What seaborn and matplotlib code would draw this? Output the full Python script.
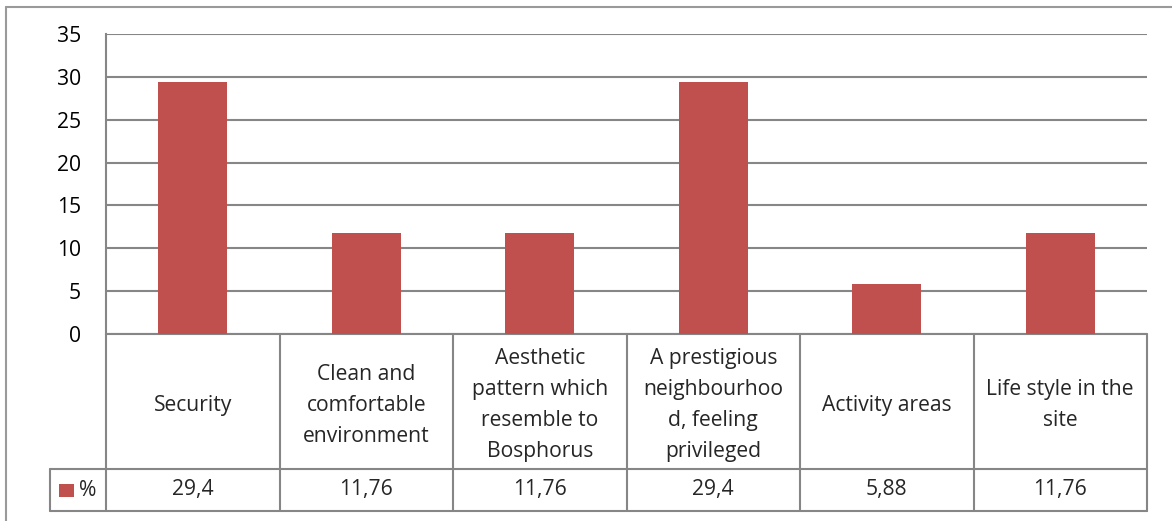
import matplotlib
matplotlib.use("Agg")
import matplotlib.pyplot as plt
import seaborn as sns
import pandas as pd
from matplotlib.patches import Rectangle

# Data
categories = [
    "Security",
    "Clean and\ncomfortable\nenvironment",
    "Aesthetic\npattern which\nresemble to\nBosphorus",
    "A prestigious\nneighbourhoo\nd, feeling\nprivileged",
    "Activity areas",
    "Life style in the\nsite",
]
values = [29.4, 11.76, 11.76, 29.4, 5.88, 11.76]
value_labels = ["29,4", "11,76", "11,76", "29,4", "5,88", "11,76"]
series_name = "%"
y_ticks = [0, 5, 10, 15, 20, 25, 30, 35]

df = pd.DataFrame({"category": categories, "value": values})

sns.set_theme(style="white")
plt.rcParams["font.family"] = ["Open Sans", "DejaVu Sans"]

bar_color = "#C0504D"
line_color = "#868686"
fs = 15.2
W, H = 1172, 521

fig = plt.figure(figsize=(W / 100, H / 100), dpi=100)
ax = fig.add_axes([106 / W, 1 - 334 / H, (1147 - 106) / W, 300 / H])

sns.barplot(data=df, x="category", y="value", color=bar_color, width=0.4,
            saturation=1, ax=ax, zorder=3)
for p in ax.patches:
    p.set_edgecolor("none")

ax.set_xlim(-0.5, len(categories) - 0.5)
ax.set_ylim(0, 35)
ax.set_yticks(y_ticks)
ax.set_yticklabels([str(t) for t in y_ticks], fontsize=fs, color="black")
ax.tick_params(axis="y", length=0, pad=18)
ax.set_xticks([])
ax.set_xlabel("")
ax.set_ylabel("")
ax.yaxis.grid(True, color=line_color, linewidth=1.5, zorder=0)
for side in ["top", "right", "bottom"]:
    ax.spines[side].set_visible(False)
ax.spines["left"].set_color(line_color)
ax.spines["left"].set_linewidth(1.5)

# data table under the plot (x in data units, y in axes fraction)
tr = ax.get_xaxis_transform()
row1 = -0.45
row2 = -0.59
n = len(categories)
lkw = dict(color=line_color, linewidth=1.5, transform=tr, clip_on=False)
ax.plot([-0.5, n - 0.5], [0, 0], **lkw)
ax.plot([-0.823, n - 0.5], [row1, row1], **lkw)
ax.plot([-0.823, n - 0.5], [row2, row2], **lkw)
for i in range(n + 1):
    ax.plot([i - 0.5, i - 0.5], [0, row2], **lkw)
ax.plot([-0.823, -0.823], [row1, row2], **lkw)

for i, (cat, lab) in enumerate(zip(categories, value_labels)):
    ax.text(i, row1 / 2 - 0.012, cat, transform=tr, ha="center", va="center",
            fontsize=fs, linespacing=1.63, clip_on=False)
    ax.text(i, (row1 + row2) / 2, lab, transform=tr, ha="center", va="center",
            fontsize=fs, clip_on=False)

# legend key cell
ax.add_patch(Rectangle((-0.771, row1 - 0.093), 0.088, 0.043, transform=tr,
                       facecolor=bar_color, edgecolor="none", clip_on=False))
ax.text(-0.655, (row1 + row2) / 2, series_name, transform=tr, ha="left",
        va="center", fontsize=fs, clip_on=False)

# outer chart border (cut off at right and bottom)
fig.add_artist(plt.Line2D([6 / W, 6 / W], [0, 1 - 7 / H], color="#9a9a9a",
                          linewidth=1.5, transform=fig.transFigure))
fig.add_artist(plt.Line2D([6 / W, 1], [1 - 7 / H, 1 - 7 / H], color="#9a9a9a",
                          linewidth=1.5, transform=fig.transFigure))

fig.savefig("out.png", dpi=100)
